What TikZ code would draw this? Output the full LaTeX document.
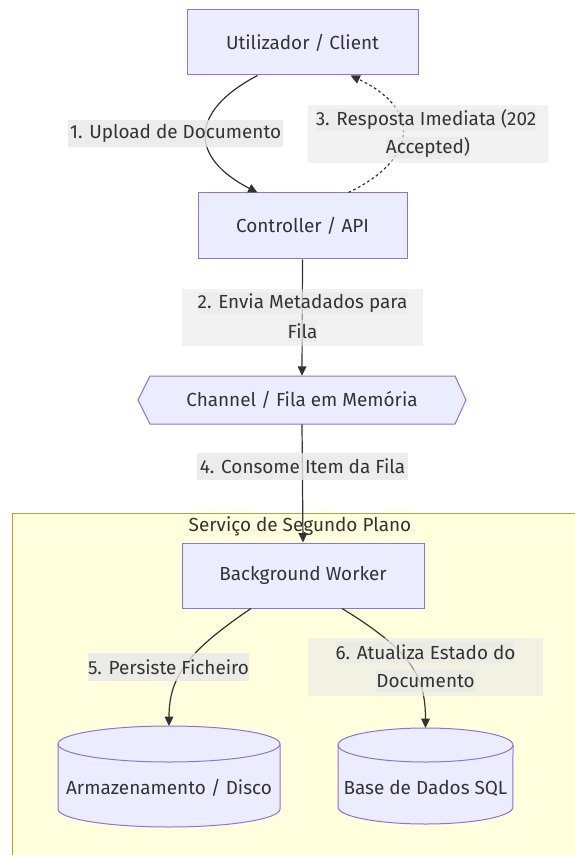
\documentclass[tikz,border=0pt]{standalone}
\usepackage{fontspec}
\setmainfont{Fira Sans}
\usetikzlibrary{calc,arrows.meta}
\definecolor{nodefill}{HTML}{ECECFF}
\definecolor{nodeline}{HTML}{9370DB}
\definecolor{groupfill}{HTML}{FFFFDE}
\definecolor{groupline}{HTML}{AAAA33}
\definecolor{ink}{HTML}{333333}
\definecolor{lblbg}{HTML}{E8E8E8}
\begin{document}
\begin{tikzpicture}[x=0.75pt,y=-0.75pt,
  font=\fontsize{14.2}{16}\selectfont, text=ink,
  proc/.style={draw=nodeline, fill=nodefill, line width=0.75pt, rectangle, inner sep=0pt},
  shapetext/.style={inner sep=0pt},
  flow/.style={draw=ink, line width=0.9pt, -{Triangle[length=7pt,width=6.5pt]}},
  lblbox/.style={fill=lblbg, fill opacity=0.55, text opacity=1, inner sep=0pt},
  lblone/.style={fill=lblbg, fill opacity=0.8, text opacity=1, inner sep=0pt},
  lblline/.style={fill=lblbg, fill opacity=0.6, text opacity=1, inner xsep=0pt, inner ysep=0pt, minimum height=16.5pt}]

% canvas
\fill[white] (0,0) rectangle (574,855);
\useasboundingbox (0,0) rectangle (574,855);

% background service group
\draw[draw=groupline, fill=groupfill, line width=0.75pt] (12,513) rectangle (582,864);
\node (grouptitle) at (300,526) {Serviço de Segundo Plano};

% process boxes
\node[proc, minimum width=173.25pt, minimum height=48.75pt] (client) at (302.5,42.5) {Utilizador / Client};
\node[proc, minimum width=156.75pt, minimum height=49.5pt] (ctrl) at (302.5,226) {Controller / API};
\node[proc, minimum width=181.5pt, minimum height=48.75pt] (worker) at (303,575.5) {Background Worker};

% queue (hexagon)
\draw[draw=nodeline, fill=nodefill, line width=0.75pt]
  (138,400) -- (150,376) -- (455,376) -- (466,400) -- (455,424) -- (150,424) -- cycle;
\node[shapetext, minimum width=246pt, minimum height=36pt] (queue) at (302,400) {Channel / Fila em Memória};

% storage cylinders
\fill[nodefill] (58,744) -- (58,809) arc[start angle=180, end angle=360, x radius=83.25pt, y radius=13.5pt] -- (280,744) -- cycle;
\draw[nodeline, fill=nodefill, line width=0.75pt] (169,744) ellipse[x radius=83.25pt, y radius=13.5pt];
\draw[nodeline, line width=0.75pt] (58,744) -- (58,809) arc[start angle=180, end angle=360, x radius=83.25pt, y radius=13.5pt] -- (280,744);
\coordinate (disktop) at (169,726);
\node[shapetext] (disk) at (169,788) {Armazenamento / Disco};

\fill[nodefill] (338,745) -- (338,807) arc[start angle=180, end angle=360, x radius=65.6pt, y radius=12.75pt] -- (513,745) -- cycle;
\draw[nodeline, fill=nodefill, line width=0.75pt] (425.5,745) ellipse[x radius=65.6pt, y radius=12.75pt];
\draw[nodeline, line width=0.75pt] (338,745) -- (338,807) arc[start angle=180, end angle=360, x radius=65.6pt, y radius=12.75pt] -- (513,745);
\coordinate (sqltop) at (425.5,728);
\node[shapetext] (sql) at (425.5,788) {Base de Dados SQL};

% connectors
\draw[flow] ($(client.south)+(-45,0)$) .. controls (188,112) and (190,158) .. ($(ctrl.north)+(-45,0)$);
\draw[flow, dash pattern=on 2pt off 2pt] ($(ctrl.north)+(46,0)$) .. controls (420,158) and (420,108) .. ($(client.south)+(48,0)$);
\draw[flow] (ctrl.south) -- (queue.north);
\draw[flow] (queue.south) -- (worker.north);
\draw[flow] ($(worker.south)+(-52,0)$) .. controls (190,650) and (169,675) .. (disktop);
\draw[flow] ($(worker.south)+(39,0)$) .. controls (410,650) and (425.5,675) .. (sqltop);

% connector labels
\node[lblone, minimum width=161.25pt, minimum height=20.25pt] (lab1) at (175.5,133.5) {1. Upload de Documento};

\node[lblbox, minimum width=180.75pt, minimum height=42.75pt] (lab2) at (302.5,317.5) {};
\node[lblline] (lab2a) at (302.5,303) {2. Envia Metadados para\ };
\node[lblline] (lab2b) at (302.5,331) {Fila};

\node[lblbox, minimum width=180pt, minimum height=43.5pt] (lab3) at (428,134) {};
\node[lblline] (lab3a) at (426,120) {3. Resposta Imediata (202};
\node[lblline] (lab3b) at (428,148) {Accepted)};

\node[lblone, minimum width=158.25pt, minimum height=20.25pt] (lab4) at (302.5,466.5) {4. Consome Item da Fila};

\node[lblone, minimum width=120.75pt, minimum height=21pt] (lab5) at (168.5,667) {5. Persiste Ficheiro};

\node[lblbox, minimum width=176.25pt, minimum height=43.5pt] (lab6) at (425.5,667) {};
\node[lblline] (lab6a) at (425.5,652) {6. Atualiza Estado do};
\node[lblline] (lab6b) at (425.5,681) {Documento};
\end{tikzpicture}
\end{document}
